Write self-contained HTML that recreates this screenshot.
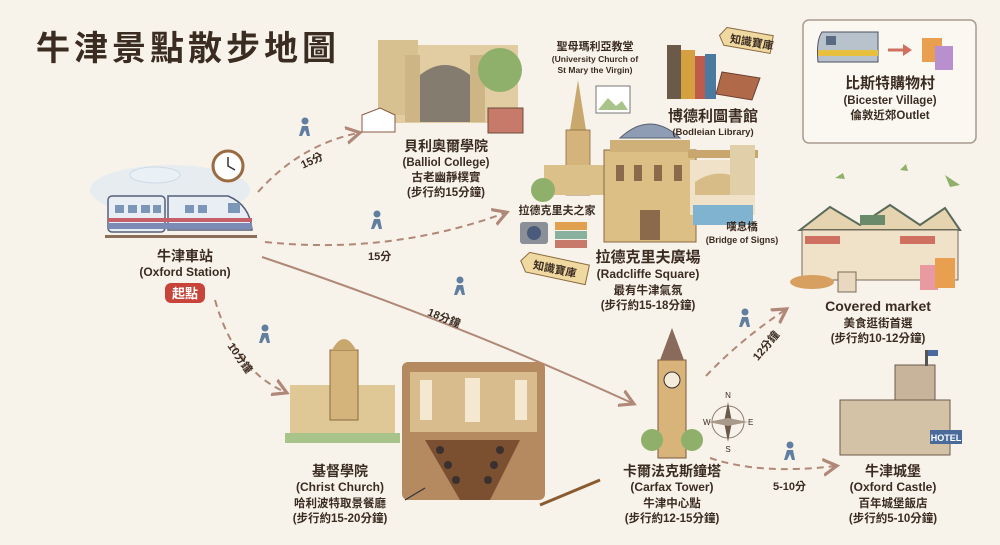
<!DOCTYPE html>
<html><head><meta charset="utf-8"><style>
html,body{margin:0;padding:0;background:#f8f3ea;}
svg{display:block}
text{font-family:"Liberation Sans","Noto Sans CJK TC",sans-serif;fill:#3b2c22;}
.b{font-weight:bold}
</style></head><body>
<svg width="1000" height="545" viewBox="0 0 1000 545" xmlns="http://www.w3.org/2000/svg">
<defs>
<marker id="ar" markerWidth="10" markerHeight="10" refX="6" refY="5" orient="auto"><path d="M0,1 L7,5 L0,9" fill="none" stroke="#b08878" stroke-width="1.6"/></marker>
</defs>
<rect width="1000" height="545" fill="#f8f3ea"/>
<text x="36" y="60" font-size="34" class="b" letter-spacing="4" fill="#3a2a1e">牛津景點散步地圖</text>

<!-- connectors -->
<g fill="none" stroke="#b08878" stroke-width="2" stroke-dasharray="7,5">
<path d="M258,192 Q300,145 358,133" marker-end="url(#ar)"/>
<path d="M265,242 Q390,255 505,213" marker-end="url(#ar)"/>
<path d="M215,300 Q235,370 285,392" marker-end="url(#ar)"/>
<path d="M706,376 Q740,340 785,310" marker-end="url(#ar)"/>
<path d="M710,458 Q760,475 835,466" marker-end="url(#ar)"/>
</g>
<path d="M262,257 Q450,320 632,403" fill="none" stroke="#b08878" stroke-width="2" marker-end="url(#ar)"/>
<g font-size="11" class="b">
<text x="300" y="165" transform="rotate(-25 310 160)">15分</text>
<text x="368" y="260">15分</text>
<text x="427" y="322" transform="rotate(22 445 318)">18分鐘</text>
<text x="222" y="360" transform="rotate(55 238 358)">10分鐘</text>
<text x="748" y="350" transform="rotate(-50 765 345)">12分鐘</text>
<text x="773" y="490">5-10分</text>
</g>
<!-- walkers -->
<g fill="#5f7ea0">
<circle cx="305" cy="121" r="3.5"/><path d="M302,126 l6,0 l2,10 l-3,0 l-2,-6 l-3,6 l-3,0z"/>
<circle cx="377" cy="214" r="3.5"/><path d="M374,219 l6,0 l2,10 l-3,0 l-2,-6 l-3,6 l-3,0z"/>
<circle cx="460" cy="280" r="3.5"/><path d="M457,285 l6,0 l2,10 l-3,0 l-2,-6 l-3,6 l-3,0z"/>
<circle cx="265" cy="328" r="3.5"/><path d="M262,333 l6,0 l2,10 l-3,0 l-2,-6 l-3,6 l-3,0z"/>
<circle cx="745" cy="312" r="3.5"/><path d="M742,317 l6,0 l2,10 l-3,0 l-2,-6 l-3,6 l-3,0z"/>
<circle cx="790" cy="445" r="3.5"/><path d="M787,450 l6,0 l2,10 l-3,0 l-2,-6 l-3,6 l-3,0z"/>
</g>

<!-- station -->
<ellipse cx="155" cy="175" rx="25" ry="8" fill="#fff" stroke="#bcc8d4"/>
<ellipse cx="170" cy="190" rx="80" ry="25" fill="#dbe8f2" opacity="0.6"/>
<circle cx="228" cy="166" r="15" fill="#fff" stroke="#9a6a40" stroke-width="3"/>
<path d="M228,157 V166 L235,170" stroke="#333" stroke-width="1.5" fill="none"/>
<rect x="108" y="196" width="57" height="36" rx="4" fill="#e9edf4" stroke="#55607a" stroke-width="1.5"/>
<path d="M168,196 H228 Q250,205 252,230 H168z" fill="#e9edf4" stroke="#55607a" stroke-width="1.5"/>
<rect x="108" y="218" width="144" height="4" fill="#c5606a"/>
<rect x="108" y="223" width="144" height="6" fill="#7b8bb5"/>
<g fill="#7c96b8"><rect x="115" y="205" width="9" height="8"/><rect x="128" y="205" width="9" height="8"/><rect x="141" y="205" width="9" height="8"/><rect x="153" y="205" width="8" height="8"/><rect x="185" y="205" width="9" height="8"/><rect x="198" y="205" width="9" height="8"/><rect x="228" y="203" width="12" height="10"/></g>
<rect x="105" y="235" width="152" height="3" fill="#8a6e58"/>
<text x="185" y="261" font-size="14" class="b" text-anchor="middle">牛津車站</text>
<text x="185" y="276" font-size="12" class="b" text-anchor="middle">(Oxford Station)</text>
<rect x="165" y="283" width="40" height="20" rx="6" fill="#c8443a"/>
<text x="185" y="298" font-size="13" class="b" text-anchor="middle" fill="#fff" style="fill:#fff">起點</text>

<!-- balliol -->
<rect x="378" y="45" width="140" height="78" fill="#e2cda3"/>
<rect x="378" y="40" width="40" height="75" fill="#d8c190"/>
<rect x="405" y="55" width="15" height="67" fill="#cdb585"/><rect x="470" y="55" width="15" height="67" fill="#cdb585"/>
<path d="M420,75 Q445,55 470,75 V122 H420z" fill="#5c5a58" opacity="0.7"/>
<circle cx="500" cy="70" r="22" fill="#8fb06a"/>
<path d="M362,115 L380,108 L395,115 L395,132 L362,132z" fill="#fff" stroke="#8a5a40"/>
<rect x="488" y="108" width="35" height="25" fill="#c77a6a" stroke="#6b4c3a"/>
<text x="446" y="151" font-size="14" class="b" text-anchor="middle">貝利奧爾學院</text>
<text x="446" y="166" font-size="11.5" class="b" text-anchor="middle">(Balliol College)</text>
<text x="446" y="181" font-size="11.5" class="b" text-anchor="middle">古老幽靜樸實</text>
<text x="446" y="196" font-size="11.5" class="b" text-anchor="middle">(步行約15分鐘)</text>

<!-- St Mary / Radcliffe -->
<text x="595" y="50" font-size="11" class="b" text-anchor="middle">聖母瑪利亞教堂</text>
<text x="595" y="62" font-size="8.5" class="b" text-anchor="middle">(University Church of</text>
<text x="595" y="73" font-size="8.5" class="b" text-anchor="middle">St Mary the Virgin)</text>
<path d="M578,80 L586,130 L570,130z" fill="#c9a86e"/>
<rect x="566" y="130" width="24" height="65" fill="#d4b47a" stroke="#8a6a40" stroke-width="0.8"/>
<rect x="544" y="165" width="90" height="30" fill="#dcc08a"/>
<rect x="596" y="86" width="34" height="27" fill="#fff" stroke="#777"/><path d="M598,110 l10,-12 l8,8 l6,-5 l6,9z" fill="#a8c48a"/>
<circle cx="543" cy="190" r="12" fill="#8fb06a"/>
<path d="M620,138 Q650,110 680,138z" fill="#8e9cb4" stroke="#5a6070"/>
<rect x="604" y="150" width="92" height="92" fill="#dcbf84" stroke="#8a6a40"/>
<rect x="610" y="140" width="80" height="12" fill="#cfb078"/>
<g fill="#8a6a4a"><rect x="616" y="165" width="8" height="16"/><rect x="634" y="165" width="8" height="16"/><rect x="654" y="165" width="8" height="16"/><rect x="674" y="165" width="8" height="16"/><rect x="640" y="210" width="20" height="30"/></g>
<rect x="688" y="150" width="70" height="8" fill="#c9a66e"/>
<path d="M690,160 H755 V215 H690z" fill="#f0e2c8"/>
<path d="M695,182 Q720,165 745,182 V195 H695z" fill="#d8bc88"/>
<rect x="693" y="205" width="60" height="20" fill="#7fb3cf"/>
<rect x="730" y="145" width="25" height="50" fill="#e0cfa8"/>
<text x="742" y="230" font-size="10.5" class="b" text-anchor="middle">嘆息橋</text>
<text x="742" y="243" font-size="9" class="b" text-anchor="middle">(Bridge of Signs)</text>
<text x="557" y="214" font-size="11" class="b" text-anchor="middle">拉德克里夫之家</text>
<rect x="520" y="222" width="28" height="22" rx="3" fill="#8a8f98"/><circle cx="534" cy="233" r="7" fill="#4a5a7a"/>
<rect x="555" y="222" width="32" height="8" fill="#e0a050"/><rect x="555" y="231" width="32" height="8" fill="#8ab0a0"/><rect x="555" y="240" width="32" height="8" fill="#c77a6a"/>
<g transform="rotate(12 555 268)"><path d="M527,258 H588 V278 H527 L520,268z" fill="#f0d9a0" stroke="#8a6a40"/><text x="533" y="273" font-size="11" class="b">知識寶庫</text></g>
<text x="648" y="262" font-size="15" class="b" text-anchor="middle">拉德克里夫廣場</text>
<text x="648" y="278" font-size="12" class="b" text-anchor="middle">(Radcliffe Square)</text>
<text x="648" y="294" font-size="11.5" class="b" text-anchor="middle">最有牛津氣氛</text>
<text x="648" y="309" font-size="11.5" class="b" text-anchor="middle">(步行約15-18分鐘)</text>

<!-- Bodleian -->
<rect x="667" y="45" width="14" height="54" fill="#6b5a4a"/><rect x="681" y="50" width="14" height="49" fill="#d4a040"/><rect x="695" y="56" width="10" height="43" fill="#c05a4a"/><rect x="705" y="54" width="11" height="45" fill="#4a7aa0"/>
<path d="M722,72 L760,78 L752,100 L716,94z" fill="#b06a4a" stroke="#6b4030"/>
<g transform="rotate(10 740 40)"><path d="M725,30 H772 V48 H725 L719,39z" fill="#f0d9a0" stroke="#8a6a40"/><text x="730" y="44" font-size="11" class="b">知識寶庫</text></g>
<text x="713" y="121" font-size="15" class="b" text-anchor="middle">博德利圖書館</text>
<text x="713" y="135" font-size="9.5" class="b" text-anchor="middle">(Bodleian Library)</text>

<!-- Bicester -->
<rect x="803" y="20" width="173" height="123" rx="6" fill="#fbf8f2" stroke="#a89a90" stroke-width="1.5"/>
<path d="M822,32 H878 V62 H818 Q816,40 822,32z" fill="#b8c2cc" stroke="#4a5060"/>
<rect x="818" y="50" width="60" height="6" fill="#e8c040"/>
<rect x="826" y="36" width="10" height="9" fill="#5a6a80"/>
<path d="M888,50 H905" stroke="#d07060" stroke-width="3"/><path d="M903,44 L912,50 L903,56z" fill="#d07060"/>
<rect x="922" y="38" width="20" height="24" fill="#e8a050"/><rect x="935" y="46" width="18" height="24" fill="#b890d0"/>
<text x="890" y="88" font-size="15" class="b" text-anchor="middle">比斯特購物村</text>
<text x="890" y="104" font-size="11.5" class="b" text-anchor="middle">(Bicester Village)</text>
<text x="890" y="119" font-size="11.5" class="b" text-anchor="middle">倫敦近郊Outlet</text>

<!-- market -->
<path d="M835,178 l8,-5 l2,6z M900,170 l6,-6 l2,7z M945,175 l15,10 l-10,2z" fill="#8fb06a"/>
<path d="M800,230 L830,207 L860,225 L890,205 L920,225 L945,208 L960,230z" fill="#e6d3b0" stroke="#5a6a5a" stroke-width="2"/>
<rect x="802" y="230" width="156" height="50" fill="#efe2c8" stroke="#7a6a5a"/>
<rect x="805" y="236" width="35" height="8" fill="#d07060"/><rect x="900" y="236" width="35" height="8" fill="#d07060"/>
<rect x="860" y="215" width="25" height="10" fill="#6a8a6a"/>
<ellipse cx="812" cy="282" rx="22" ry="7" fill="#d8a060"/>
<rect x="838" y="272" width="18" height="20" fill="#e8d8c0" stroke="#7a6a5a"/>
<rect x="920" y="265" width="18" height="25" fill="#e89aa0"/><rect x="935" y="258" width="20" height="30" fill="#e8a050"/>
<text x="878" y="311" font-size="14" class="b" text-anchor="middle">Covered market</text>
<text x="878" y="327" font-size="11.5" class="b" text-anchor="middle">美食逛街首選</text>
<text x="878" y="342" font-size="11.5" class="b" text-anchor="middle">(步行約10-12分鐘)</text>

<!-- christ church -->
<rect x="290" y="385" width="105" height="50" fill="#e0c896"/>
<rect x="330" y="350" width="28" height="70" fill="#d4b47a" stroke="#8a6a40"/>
<path d="M332,350 Q344,328 356,350z" fill="#c9a86e"/>
<rect x="285" y="433" width="115" height="10" fill="#a8c48a"/>
<rect x="402" y="362" width="143" height="138" rx="6" fill="#b58a60"/>
<rect x="410" y="372" width="127" height="60" fill="#d8bc8e"/>
<g fill="#f4e8d0"><rect x="420" y="380" width="12" height="40"/><rect x="465" y="378" width="15" height="44"/><rect x="515" y="380" width="12" height="40"/></g>
<path d="M425,440 L460,500 H490 L520,440z" fill="#7a5030"/>
<g fill="#3a3030"><circle cx="440" cy="450" r="4"/><circle cx="448" cy="465" r="4"/><circle cx="456" cy="480" r="4"/><circle cx="500" cy="450" r="4"/><circle cx="494" cy="465" r="4"/><circle cx="488" cy="480" r="4"/></g>
<path d="M540,505 L600,480" stroke="#8a5a30" stroke-width="3"/>
<path d="M405,500 q10,-6 20,-12" stroke="#333" fill="none" stroke-width="1.2"/>
<text x="340" y="476" font-size="14" class="b" text-anchor="middle">基督學院</text>
<text x="340" y="491" font-size="12" class="b" text-anchor="middle">(Christ Church)</text>
<text x="340" y="507" font-size="11.5" class="b" text-anchor="middle">哈利波特取景餐廳</text>
<text x="340" y="522" font-size="11.5" class="b" text-anchor="middle">(步行約15-20分鐘)</text>

<!-- carfax -->
<rect x="658" y="360" width="28" height="98" fill="#d8b47a" stroke="#7a5a3a"/>
<path d="M660,360 L672,328 L684,360z" fill="#8a6a5a"/>
<circle cx="672" cy="380" r="8" fill="#f4ecd8" stroke="#333"/>
<circle cx="652" cy="440" r="11" fill="#8fb06a"/><circle cx="692" cy="440" r="11" fill="#8fb06a"/>
<circle cx="728" cy="422" r="16" fill="none" stroke="#8a7a6a"/>
<path d="M728,402 L732,422 L728,442 L724,422z" fill="#6a5a4a"/><path d="M708,422 L728,418 L748,422 L728,426z" fill="#a89a8a"/>
<text x="728" y="398" font-size="8" text-anchor="middle">N</text><text x="728" y="452" font-size="8" text-anchor="middle">S</text><text x="703" y="425" font-size="8">W</text><text x="748" y="425" font-size="8">E</text>
<text x="672" y="476" font-size="14" class="b" text-anchor="middle">卡爾法克斯鐘塔</text>
<text x="672" y="491" font-size="12" class="b" text-anchor="middle">(Carfax Tower)</text>
<text x="672" y="507" font-size="11.5" class="b" text-anchor="middle">牛津中心點</text>
<text x="672" y="522" font-size="11.5" class="b" text-anchor="middle">(步行約12-15分鐘)</text>

<!-- castle -->
<rect x="895" y="365" width="40" height="90" fill="#c8b49a" stroke="#6a5a4a"/>
<rect x="840" y="400" width="110" height="55" fill="#d4c2a6" stroke="#6a5a4a"/>
<rect x="925" y="350" width="3" height="16" fill="#555"/><rect x="928" y="350" width="10" height="6" fill="#4a6aa0"/>
<rect x="930" y="430" width="32" height="14" fill="#4a6a9a"/><text x="946" y="441" font-size="9" class="b" text-anchor="middle" style="fill:#fff">HOTEL</text>
<text x="893" y="476" font-size="14" class="b" text-anchor="middle">牛津城堡</text>
<text x="893" y="491" font-size="12" class="b" text-anchor="middle">(Oxford Castle)</text>
<text x="893" y="507" font-size="11.5" class="b" text-anchor="middle">百年城堡飯店</text>
<text x="893" y="522" font-size="11.5" class="b" text-anchor="middle">(步行約5-10分鐘)</text>
</svg>
</body></html>
